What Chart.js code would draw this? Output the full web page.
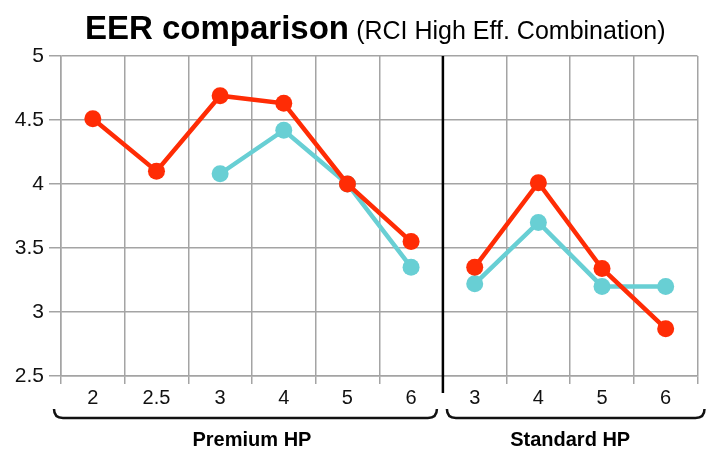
<!DOCTYPE html>
<html>
<head>
    <title>EER comparison</title>
    <script src="https://cdn.jsdelivr.net/npm/chart.js"></script>
    <style>
        body {
            margin: 0;
            background: #ffffff;
        }
        .chart-box {
            width: 706px;
            height: 451px;
            position: relative;
        }
    </style>
</head>
<body>
    <div class="chart-box">
        <canvas id="eerChart"></canvas>
    </div>

    <script>
        // Chart data
        const categories = ['2', '2.5', '3', '4', '5', '6', '3', '4', '5', '6'];
        const groupLabels = ['Premium HP', 'Standard HP'];
        const groupSizes = [6, 4];
        const redValues = [4.51, 4.10, 4.69, 4.63, 4.00, 3.55, 3.35, 4.01, 3.34, 2.87];
        const cyanValues = [null, null, 4.08, 4.42, 4.00, 3.35, 3.22, 3.70, 3.20, 3.20];
        const yTicks = [2.5, 3, 3.5, 4, 4.5, 5];

        const FONT = "'Liberation Sans', Arial, Helvetica, sans-serif";
        const RED = '#ff2c05';
        const CYAN = '#68cfd4';
        const GRID = '#a4a4a4';

        // no line across the gap between the two groups
        const breakAt = groupSizes[0] - 1;
        const gapSegment = {
            borderColor: ctx => ctx.p0DataIndex === breakAt ? 'transparent' : undefined
        };

        const decorations = {
            id: 'decorations',
            afterDraw(chart) {
                const {ctx, chartArea, scales} = chart;
                const x = scales.x;
                const step = x.getPixelForValue(1) - x.getPixelForValue(0);

                // title: bold part + normal part on one line
                ctx.save();
                ctx.fillStyle = '#000';
                ctx.textBaseline = 'alphabetic';
                ctx.font = 'bold 33px ' + FONT;
                const main = 'EER comparison ';
                const w1 = ctx.measureText(main).width;
                ctx.font = '25px ' + FONT;
                const sub = '(RCI High Eff. Combination)';
                const w2 = ctx.measureText(sub).width;
                const cx = (chartArea.left + chartArea.right) / 2 - 3;
                let tx = cx - (w1 + w2) / 2;
                ctx.font = 'bold 33px ' + FONT;
                ctx.fillText(main, tx, 39);
                ctx.font = '25px ' + FONT;
                ctx.fillText(sub, tx + w1 - 2, 39);
                ctx.restore();

                // black separator between groups
                const sepX = x.getPixelForValue(breakAt) + step / 2;
                ctx.save();
                ctx.strokeStyle = '#000';
                ctx.lineWidth = 2.5;
                ctx.beginPath();
                ctx.moveTo(sepX, chartArea.top);
                ctx.lineTo(sepX, chartArea.bottom + 17);
                ctx.stroke();
                ctx.restore();

                // brackets + group labels
                let start = 0;
                groupSizes.forEach((n, i) => {
                    const left = x.getPixelForValue(start) - step / 2;
                    const right = x.getPixelForValue(start + n - 1) + step / 2;
                    const x1 = i === 0 ? left - 7 : left + 4;
                    const x2 = i === 0 ? right - 6 : right + 7;
                    const yb = chartArea.bottom + 42;
                    const r = 9;
                    ctx.save();
                    ctx.strokeStyle = '#111';
                    ctx.lineWidth = 2.5;
                    ctx.beginPath();
                    ctx.moveTo(x1, yb - r);
                    ctx.quadraticCurveTo(x1, yb, x1 + r, yb);
                    ctx.lineTo(x2 - r, yb);
                    ctx.quadraticCurveTo(x2, yb, x2, yb - r);
                    ctx.stroke();

                    ctx.fillStyle = '#000';
                    ctx.font = 'bold 20px ' + FONT;
                    ctx.textAlign = 'center';
                    ctx.textBaseline = 'middle';
                    ctx.fillText(groupLabels[i], (left + right) / 2, chartArea.bottom + 64);
                    ctx.restore();
                    start += n;
                });
            }
        };

        new Chart(document.getElementById('eerChart'), {
            type: 'line',
            data: {
                labels: categories,
                datasets: [{
                    label: 'Red',
                    data: redValues,
                    borderColor: RED,
                    backgroundColor: RED,
                    borderWidth: 4.5,
                    pointRadius: 8.5,
                    pointHoverRadius: 8.5,
                    pointBorderWidth: 0,
                    segment: gapSegment
                }, {
                    label: 'Cyan',
                    data: cyanValues,
                    borderColor: CYAN,
                    backgroundColor: CYAN,
                    borderWidth: 4.5,
                    pointRadius: 8.5,
                    pointHoverRadius: 8.5,
                    pointBorderWidth: 0,
                    segment: gapSegment
                }]
            },
            options: {
                responsive: true,
                maintainAspectRatio: false,
                animation: false,
                layout: {
                    padding: {top: 56, right: 8, bottom: 45, left: 0}
                },
                plugins: {
                    legend: {display: false},
                    tooltip: {enabled: false}
                },
                scales: {
                    x: {
                        offset: true,
                        grid: {
                            offset: true,
                            color: GRID,
                            lineWidth: 1.5,
                            tickLength: 8
                        },
                        border: {color: GRID, width: 1.5},
                        ticks: {
                            color: '#111',
                            font: {family: FONT, size: 20},
                            padding: 2,
                            maxRotation: 0
                        },
                        afterFit: s => { s.height = 30; }
                    },
                    y: {
                        min: yTicks[0],
                        max: yTicks[yTicks.length - 1],
                        afterBuildTicks: s => { s.ticks = yTicks.map(v => ({value: v})); },
                        grid: {
                            color: GRID,
                            lineWidth: 1.5,
                            tickLength: 12
                        },
                        border: {color: GRID, width: 1.5},
                        ticks: {
                            color: '#111',
                            font: {family: FONT, size: 21},
                            padding: 5,
                            callback: v => String(v)
                        },
                        afterFit: s => { s.width = 61; }
                    }
                }
            },
            plugins: [decorations]
        });
    </script>
</body>
</html>
